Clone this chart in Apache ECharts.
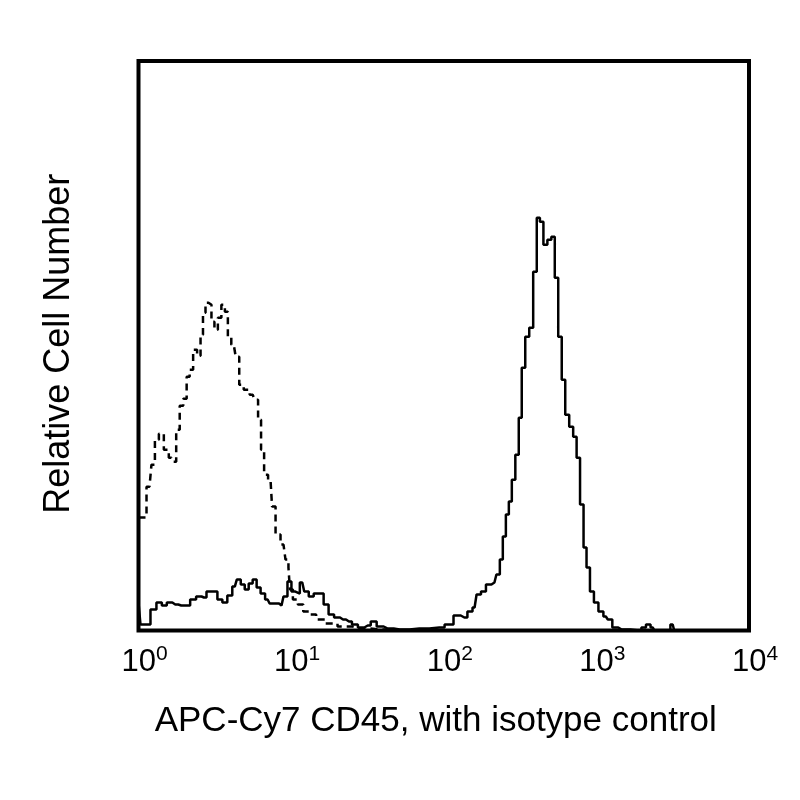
<!DOCTYPE html>
<html>
<head>
<meta charset="utf-8">
<script src="https://cdn.jsdelivr.net/npm/echarts@6/dist/echarts.min.js"></script>
<style>
  html, body { margin: 0; padding: 0; background: #fff; }
  #chart { width: 800px; height: 800px; }
</style>
</head>
<body>
<div id="chart"></div>
<script>
// Log10 fluorescence (decades) and relative cell counts
const xTicks = [0, 1, 2, 3, 4];
const xTitle = 'APC-Cy7 CD45, with isotype control';
const yTitle = 'Relative Cell Number';

// Isotype control (dashed)
const isoX = [0, 0.033, 0.072, 0.098, 0.117, 0.150, 0.182, 0.215, 0.234, 0.260, 0.280, 0.306, 0.325, 0.345, 0.371, 0.397, 0.416, 0.429, 0.449, 0.468, 0.488, 0.507, 0.533, 0.553, 0.579, 0.592, 0.624, 0.650, 0.670, 0.709, 0.748, 0.774, 0.793, 0.813, 0.833, 0.865, 0.885, 0.911, 0.950, 0.976, 0.989, 0.995, 1.028, 1.060, 1.099, 1.138, 1.190, 1.255, 1.353, 1.450, 1.580, 1.700];
const isoY = [113, 113, 144, 166, 191, 197, 181, 173, 169, 201, 225, 232, 254, 261, 281, 275, 296, 318, 328, 326, 309, 301, 313, 326, 319, 293, 286, 274, 246, 241, 236, 231, 211, 181, 156, 151, 124, 96, 86, 71, 63, 41, 31, 26, 19, 16, 11, 7, 4, 2, 1, 0];

// APC-Cy7 CD45 (solid)
const cd45X = [0, 0.026, 0.059, 0.098, 0.137, 0.169, 0.202, 0.241, 0.280, 0.319, 0.358, 0.397, 0.429, 0.462, 0.501, 0.533, 0.566, 0.598, 0.631, 0.657, 0.683, 0.709, 0.735, 0.761, 0.787, 0.813, 0.846, 0.872, 0.904, 0.937, 0.963, 0.989, 1.015, 1.041, 1.073, 1.099, 1.132, 1.164, 1.197, 1.229, 1.262, 1.301, 1.340, 1.379, 1.418, 1.457, 1.502, 1.541, 1.580, 1.633, 1.711, 1.840, 1.971, 2.040, 2.088, 2.135, 2.175, 2.202, 2.228, 2.260, 2.293, 2.332, 2.358, 2.377, 2.397, 2.417, 2.436, 2.456, 2.482, 2.501, 2.521, 2.547, 2.573, 2.599, 2.620, 2.640, 2.666, 2.692, 2.718, 2.737, 2.763, 2.783, 2.809, 2.835, 2.861, 2.880, 2.906, 2.926, 2.945, 2.971, 2.997, 3.030, 3.062, 3.088, 3.121, 3.166, 3.280, 3.310, 3.340, 3.370, 3.390, 3.470, 3.500, 3.520, 4.000];
const cd45Y = [28, 6, 6, 21, 28, 25, 28, 26, 25, 25, 31, 34, 33, 39, 39, 31, 28, 35, 44, 51, 46, 41, 47, 51, 43, 37, 31, 27, 27, 25, 34, 49, 39, 37, 48, 39, 34, 37, 37, 26, 16, 13, 11, 9, 6, 3, 5, 9, 4, 2, 1, 2, 3, 6, 15, 13, 19, 23, 36, 39, 46, 48, 56, 71, 94, 116, 129, 151, 176, 213, 263, 294, 303, 359, 413, 409, 386, 391, 394, 353, 294, 251, 216, 204, 194, 173, 126, 83, 63, 39, 28, 19, 14, 11, 3, 1, 0, 3, 6, 3, 0, 0, 6, 0, 0];

const zip = (xs, ys) => xs.map((x, i) => [x, ys[i]]);

const chart = echarts.init(document.getElementById('chart'), null, { renderer: 'canvas' });
const font = 'Liberation Sans, Arial, Helvetica, sans-serif';

chart.setOption({
  backgroundColor: '#ffffff',
  animation: false,
  grid: {
    left: 138.5, right: 51, top: 61, bottom: 169.5,
    show: true, borderColor: '#000', borderWidth: 4, backgroundColor: 'transparent'
  },
  xAxis: {
    type: 'value', min: xTicks[0], max: xTicks[xTicks.length - 1], interval: 1,
    axisLine: { show: false }, axisTick: { show: false }, splitLine: { show: false },
    axisLabel: {
      margin: 13,
      fontSize: 31,
      fontFamily: font,
      color: '#000',
      padding: [0, 0, 0, 12],
      formatter: v => '{b|10}{s|' + v + '}',
      rich: {
        b: { fontSize: 31, fontFamily: font, color: '#000', lineHeight: 34, verticalAlign: 'bottom' },
        s: { fontSize: 21, fontFamily: font, color: '#000', lineHeight: 21, verticalAlign: 'top' }
      }
    },
    name: xTitle, nameLocation: 'middle', nameGap: 73,
    nameTextStyle: { fontSize: 35, fontFamily: font, color: '#000', padding: [0, 16, 0, 0] }
  },
  yAxis: {
    type: 'value', min: 0, max: 570,
    axisLine: { show: false }, axisTick: { show: false }, splitLine: { show: false },
    axisLabel: { show: false },
    name: yTitle, nameLocation: 'middle', nameGap: 61,
    nameTextStyle: { fontSize: 36, fontFamily: font, color: '#000', padding: [0, 0, 0, 4] }
  },
  series: [
    {
      name: 'Isotype control', type: 'line', step: 'middle', symbol: 'none',
      data: zip(isoX, isoY),
      lineStyle: { color: '#000', width: 2.5, type: [7, 5] }
    },
    {
      name: 'APC-Cy7 CD45', type: 'line', step: 'middle', symbol: 'none',
      data: zip(cd45X, cd45Y),
      lineStyle: { color: '#000', width: 2.5 }
    }
  ]
});
</script>
</body>
</html>
